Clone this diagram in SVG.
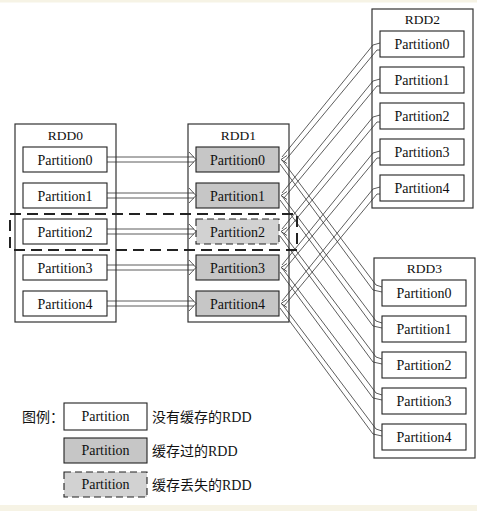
<svg xmlns="http://www.w3.org/2000/svg" width="477" height="511" viewBox="0 0 477 511">
<defs>
<style>
.box{fill:#fff;stroke:#333;stroke-width:1.2}
.p{fill:#fff;stroke:#222;stroke-width:1.1}
.pc{fill:#c6c6c6;stroke:#222;stroke-width:1.1}
.pl{fill:#d2d2d2;stroke:#222;stroke-width:1.1;stroke-dasharray:7 4}
.t{font-family:"Liberation Serif","Times New Roman",serif;font-size:14px;fill:#111;text-anchor:middle}
.r{font-family:"Liberation Serif","Times New Roman",serif;font-size:13.5px;fill:#111;text-anchor:middle}
.c{font-family:"Liberation Serif","Noto Sans CJK SC",serif;font-size:14px;fill:#111}
.ln{fill:none;stroke:#333;stroke-width:0.8}
</style>
</defs>
<rect x="0" y="0" width="477" height="511" fill="#fff"/>
<rect x="0" y="0" width="477" height="2.5" fill="#f6f3e5"/>
<rect x="0" y="505" width="477" height="6" fill="#f6f3e5"/>

<g id="rdd0">
<rect class="box" x="15" y="124" width="101" height="198"/>
<text class="r" x="65.5" y="140">RDD0</text>
<rect class="p" x="23" y="147" width="84" height="25"/><text class="t" x="65" y="164.5">Partition0</text>
<rect class="p" x="23" y="183" width="84" height="25"/><text class="t" x="65" y="200.5">Partition1</text>
<rect class="p" x="23" y="219" width="84" height="25"/><text class="t" x="65" y="236.5">Partition2</text>
<rect class="p" x="23" y="255" width="84" height="25"/><text class="t" x="65" y="272.5">Partition3</text>
<rect class="p" x="23" y="291" width="84" height="25"/><text class="t" x="65" y="308.5">Partition4</text>
</g>

<g id="rdd1">
<rect class="box" x="188" y="124" width="101" height="198"/>
<text class="r" x="238.5" y="140">RDD1</text>
<rect class="pc" x="196" y="147" width="83" height="25"/><text class="t" x="237.5" y="164.5">Partition0</text>
<rect class="pc" x="196" y="183" width="83" height="25"/><text class="t" x="237.5" y="200.5">Partition1</text>
<rect class="pl" x="196" y="219" width="83" height="25"/><text class="t" x="237.5" y="236.5">Partition2</text>
<rect class="pc" x="196" y="255" width="83" height="25"/><text class="t" x="237.5" y="272.5">Partition3</text>
<rect class="pc" x="196" y="291" width="83" height="25"/><text class="t" x="237.5" y="308.5">Partition4</text>
</g>

<g id="rdd2">
<rect class="box" x="372" y="9" width="101" height="199"/>
<text class="r" x="422.5" y="24">RDD2</text>
<rect class="p" x="380" y="31" width="84" height="26"/><text class="t" x="422" y="49">Partition0</text>
<rect class="p" x="380" y="67" width="84" height="26"/><text class="t" x="422" y="85">Partition1</text>
<rect class="p" x="380" y="103" width="84" height="26"/><text class="t" x="422" y="121">Partition2</text>
<rect class="p" x="380" y="139" width="84" height="26"/><text class="t" x="422" y="157">Partition3</text>
<rect class="p" x="380" y="175" width="84" height="26"/><text class="t" x="422" y="193">Partition4</text>
</g>

<g id="rdd3">
<rect class="box" x="374" y="258" width="101" height="200"/>
<text class="r" x="424.5" y="273">RDD3</text>
<rect class="p" x="382" y="280" width="84" height="26"/><text class="t" x="424" y="298">Partition0</text>
<rect class="p" x="382" y="316" width="84" height="26"/><text class="t" x="424" y="334">Partition1</text>
<rect class="p" x="382" y="352" width="84" height="26"/><text class="t" x="424" y="370">Partition2</text>
<rect class="p" x="382" y="388" width="84" height="26"/><text class="t" x="424" y="406">Partition3</text>
<rect class="p" x="382" y="424" width="84" height="26"/><text class="t" x="424" y="442">Partition4</text>
</g>

<g id="connectors">
<path class="ln" d="M107,157H194M107,162H194M189,152L196,159.5L189,167"/>
<path class="ln" d="M107,193H194M107,198H194M189,188L196,195.5L189,203"/>
<path class="ln" d="M107,229H194M107,234H194M189,224L196,231.5L189,239"/>
<path class="ln" d="M107,265H194M107,270H194M189,260L196,267.5L189,275"/>
<path class="ln" d="M107,301H194M107,306H194M189,296L196,303.5L189,311"/>

<path class="ln" d="M282,157L373,45L380,43M284,162L377,50L380,50M282,160L376,285L382,287M280,164L373,290L382,292M287,155.5L281,159.5L287,163.5"/>
<path class="ln" d="M282,193L373,81L380,79M284,198L377,86L380,86M282,196L376,321L382,323M280,200L373,326L382,328M287,191.5L281,195.5L287,199.5"/>
<path class="ln" d="M282,229L373,117L380,115M284,234L377,122L380,122M282,232L376,357L382,359M280,236L373,362L382,364M287,227.5L281,231.5L287,235.5"/>
<path class="ln" d="M282,265L373,153L380,151M284,270L377,158L380,158M282,268L376,393L382,395M280,272L373,398L382,400M287,263.5L281,267.5L287,271.5"/>
<path class="ln" d="M282,301L373,189L380,187M284,306L377,194L380,194M282,304L376,429L382,431M280,308L373,434L382,436M287,299.5L281,303.5L287,307.5"/>
</g>

<g id="lost-region">
<rect x="10" y="214" width="287" height="36" fill="none" stroke="#222" stroke-width="2" stroke-dasharray="11 6"/>
</g>

<g id="legend">
<text class="c" x="22" y="422">图例：</text>
<rect class="p" x="64" y="403" width="83" height="27"/><text class="t" x="105.5" y="421">Partition</text>
<text class="c" x="152" y="422">没有缓存的RDD</text>
<rect class="pc" x="64" y="438" width="83" height="25"/><text class="t" x="105.5" y="455">Partition</text>
<text class="c" x="152" y="456">缓存过的RDD</text>
<rect class="pl" x="64" y="472" width="83" height="25"/><text class="t" x="105.5" y="489">Partition</text>
<text class="c" x="152" y="490">缓存丢失的RDD</text>
</g>
</svg>
